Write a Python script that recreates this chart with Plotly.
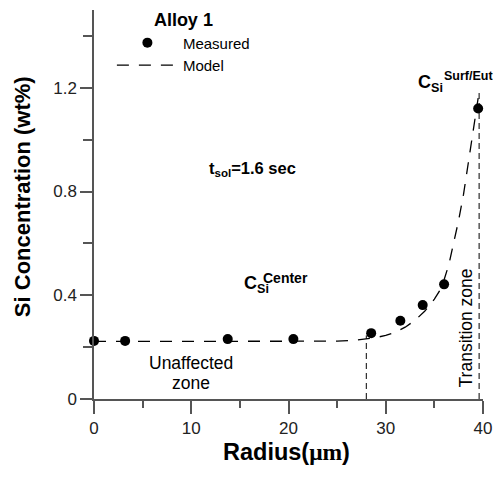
import plotly.graph_objects as go

# ---- data ----
measured_radius = [0.0, 3.2, 13.75, 20.5, 28.5, 31.5, 33.8, 36.0, 39.5]
measured_si = [0.224, 0.224, 0.231, 0.231, 0.254, 0.302, 0.362, 0.442, 1.12]

model_radius = [0, 5, 10, 15, 20, 25, 27, 28, 29, 30, 31, 32, 33, 34, 35, 35.5,
                36, 36.5, 37, 37.5, 38, 38.5, 39, 39.5]
model_si = [0.222, 0.222, 0.222, 0.222, 0.222, 0.223, 0.227, 0.232, 0.237, 0.245,
            0.258, 0.277, 0.303, 0.338, 0.385, 0.415, 0.46, 0.52, 0.60, 0.69,
            0.79, 0.91, 1.03, 1.16]

boundary_radius = [28.0, 39.6]
boundary_top = [0.245, 1.18]

x_major = [0, 10, 20, 30, 40]
x_minor = [5, 15, 25, 35]
y_major = [0, 0.4, 0.8, 1.2]
y_major_text = ["0", "0.4", "0.8", "1.2"]
y_minor = [0.2, 0.6, 1.0, 1.4]

FONT = "Liberation Sans, Arial, sans-serif"
AXC = "#555555"

fig = go.Figure()

fig.add_trace(go.Scatter(
    x=measured_radius, y=measured_si, mode="markers", name="Measured",
    marker=dict(color="black", size=10), cliponaxis=False))

fig.add_trace(go.Scatter(
    x=model_radius, y=model_si, mode="lines", name="Model",
    line=dict(color="black", width=1.3, dash="12px,10px")))

for bx, bt in zip(boundary_radius, boundary_top):
    fig.add_trace(go.Scatter(
        x=[bx, bx], y=[0, bt], mode="lines", showlegend=False, hoverinfo="skip",
        line=dict(color="black", width=1, dash="6px,4px")))

annotations = [
    dict(text="<b>Si Concentration (wt%)</b>", xref="paper", yref="paper",
         x=-0.185, y=0.519, textangle=-90, showarrow=False,
         font=dict(size=22, family=FONT, color="black"),
         xanchor="center", yanchor="middle"),
    dict(text="<b>Radius(<span style='font-family:Liberation Serif'>μm</span>)</b>",
         xref="paper", yref="paper", x=0.4936, y=-0.136, showarrow=False,
         font=dict(size=23.5, family=FONT, color="black"),
         xanchor="center", yanchor="middle"),
    dict(text="<b>t<sub>sol</sub>=1.6 sec</b>", x=11.6, y=0.885, showarrow=False,
         font=dict(size=16.5, family=FONT, color="black"),
         xanchor="left", yanchor="middle"),
    dict(text="Unaffected", x=9.96, y=0.139, showarrow=False,
         font=dict(size=17.5, family=FONT, color="black"),
         xanchor="center", yanchor="middle"),
    dict(text="zone", x=9.96, y=0.062, showarrow=False,
         font=dict(size=17.5, family=FONT, color="black"),
         xanchor="center", yanchor="middle"),
    dict(text="Transition zone", x=38.2, y=0.274, textangle=-90, showarrow=False,
         font=dict(size=17.5, family=FONT, color="black"),
         xanchor="center", yanchor="middle"),
    dict(text="<b>C<sub>Si</sub></b>", x=15.2, y=0.44, showarrow=False,
         font=dict(size=18, family=FONT, color="black"),
         xanchor="left", yanchor="middle"),
    dict(text="<b>Center</b>", x=17.2, y=0.467, showarrow=False,
         font=dict(size=14, family=FONT, color="black"),
         xanchor="left", yanchor="middle"),
    dict(text="<b>C<sub>Si</sub></b>", x=33.1, y=1.215, showarrow=False,
         font=dict(size=18, family=FONT, color="black"),
         xanchor="left", yanchor="middle"),
    dict(text="<b>Surf/Eut</b>", x=35.75, y=1.247, showarrow=False,
         font=dict(size=12.5, family=FONT, color="black"),
         xanchor="left", yanchor="middle"),
]

fig.update_layout(
    template="none",
    width=493, height=477,
    margin=dict(l=94, r=10, t=10, b=78, autoexpand=False),
    paper_bgcolor="white", plot_bgcolor="white",
    font=dict(family=FONT, color="black"),
    showlegend=True,
    legend=dict(
        x=0.046, y=1.018, xanchor="left", yanchor="top",
        bgcolor="rgba(0,0,0,0)", itemwidth=61, borderwidth=0,
        font=dict(size=15, family=FONT, color="black"),
        title=dict(text="<b>Alloy 1</b>", side="top center",
                   font=dict(size=18, family=FONT, color="black")),
    ),
    annotations=annotations,
    xaxis=dict(
        range=[0, 40], showgrid=False, zeroline=False, automargin=False,
        showline=True, linecolor=AXC, linewidth=1.5,
        tickmode="array", tickvals=x_major, ticks="outside", ticklen=13,
        tickcolor=AXC, tickwidth=1.5,
        tickfont=dict(size=17, family=FONT, color="#222"),
        minor=dict(tickmode="array", tickvals=x_minor, ticks="outside",
                   ticklen=7, tickcolor=AXC, tickwidth=1.5),
    ),
    yaxis=dict(
        range=[0, 1.5], showgrid=False, zeroline=False, automargin=False,
        showline=True, linecolor=AXC, linewidth=1.5,
        tickmode="array", tickvals=y_major, ticktext=y_major_text,
        ticks="outside", ticklen=12, tickcolor=AXC, tickwidth=1.5,
        tickfont=dict(size=17, family=FONT, color="#222"),
        minor=dict(tickmode="array", tickvals=y_minor, ticks="outside",
                   ticklen=9, tickcolor=AXC, tickwidth=1.5),
    ),
)

fig.write_html("out.html", config={"displayModeBar": False},
               post_script="document.body.style.margin='0';")
